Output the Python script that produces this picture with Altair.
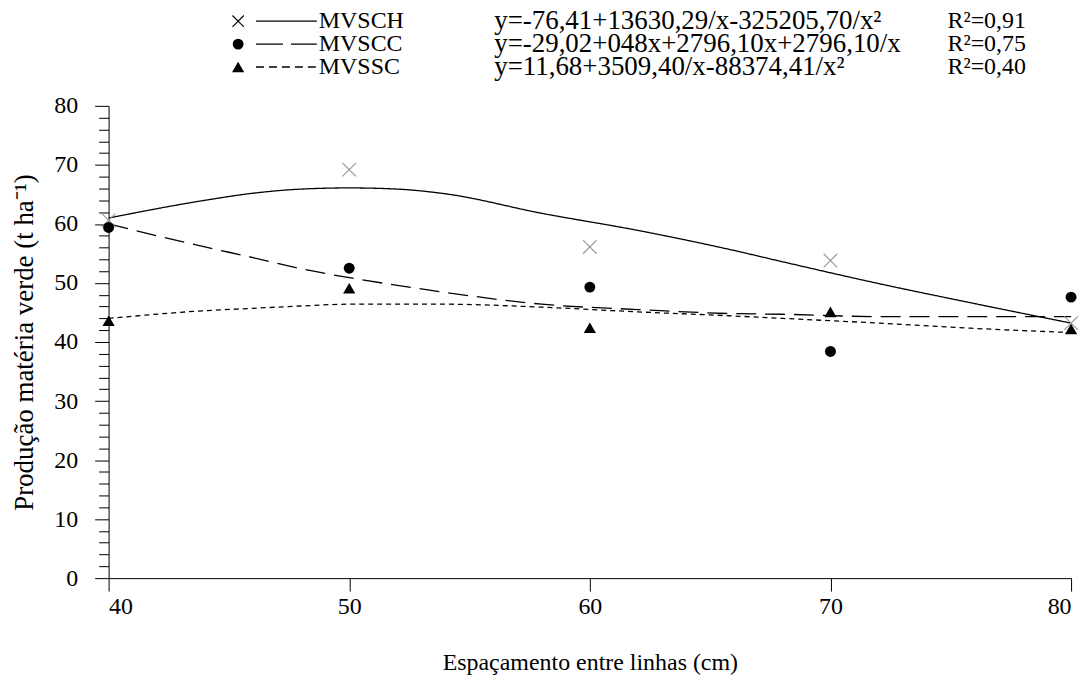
import altair as alt
import pandas as pd

# ---------------- data ----------------
series = ["MVSCH", "MVSCC", "MVSSC"]
equations = [
    "y=-76,41+13630,29/x-325205,70/x²",
    "y=-29,02+048x+2796,10x+2796,10/x",
    "y=11,68+3509,40/x-88374,41/x²",
]
r2_labels = ["R²=0,91", "R²=0,75", "R²=0,40"]

spacing_cm = [40, 50, 60, 70, 80]
mvsch_obs = [60.6, 69.2, 56.1, 53.8, 43.2]
mvscc_obs = [59.4, 52.5, 49.3, 38.4, 47.6]
mvssc_obs = [43.6, 49.1, 42.4, 45.1, 42.2]

curve_x = [40, 44, 46, 48, 50, 52, 54, 58, 62, 66, 68, 72, 76, 80]
mvsch_fit = [61.0, 64.0, 65.2, 65.9, 66.1, 65.9, 65.1, 61.8, 58.9, 55.5, 53.6, 49.9, 46.5, 43.2]
mvscc_fit = [60.0, 56.1, 54.3, 52.4, 50.9, 49.6, 48.4, 46.4, 45.5, 44.8, 44.7, 44.3, 44.3, 44.3]
mvssc_fit = [44.0, 45.3, 45.7, 46.1, 46.4, 46.4, 46.4, 45.9, 45.1, 44.4, 44.0, 43.2, 42.3, 41.6]

y_ticks = list(range(0, 81, 2))
x_ticks = [40, 50, 60, 70, 80]

# ---------------- tables ----------------
obs_df = pd.DataFrame({
    "x": spacing_cm * 3,
    "y": mvsch_obs + mvscc_obs + mvssc_obs,
    "series": [s for s in series for _ in spacing_cm],
})
fit_df = pd.DataFrame({
    "x": curve_x * 3,
    "y": mvsch_fit + mvscc_fit + mvssc_fit,
    "series": [s for s in series for _ in curve_x],
})
legend_df = pd.DataFrame({"series": series, "row": [0, 1, 2], "eq": equations, "r2": r2_labels})

# ---------------- styles ----------------
FONT = "Liberation Serif"
FS = 24
X_PATH = "M-1,-1L1,1M1,-1L-1,1"
dash_scale = alt.Scale(domain=series, range=[[1, 0], [20, 9], [5, 4]])
legend_dashes = {"MVSCH": [1, 0], "MVSCC": [27, 8], "MVSSC": [8, 5]}
marker_style = {"MVSCC": ("circle", 120), "MVSSC": ("triangle-up", 150)}

axis_font = dict(labelFont=FONT, labelFontSize=FS, labelColor="black",
                 titleFont=FONT, titleColor="black", titleFontWeight="normal",
                 domainColor="black", tickColor="black", grid=False)

x_enc = alt.X(
    "x:Q",
    scale=alt.Scale(domain=[40, 80], nice=False, zero=False),
    axis=alt.Axis(values=x_ticks, title="Espaçamento entre linhas (cm)", titleFontSize=FS,
                  tickSize=13, labelPadding=4, titlePadding=32, format="d", **axis_font),
)
y_enc = alt.Y(
    "y:Q",
    scale=alt.Scale(domain=[0, 80], nice=False),
    axis=alt.Axis(
        values=y_ticks,
        labelExpr="datum.value % 10 === 0 ? datum.label : ''",
        labelOverlap=False,
        tickSize={"condition": {"test": "datum.value % 10 === 0", "value": 14}, "value": 10},
        labelPadding=17,
        titlePadding=15,
        titleFontSize=27,
        title="Produção matéria verde (t ha⁻¹)",
        **axis_font,
    ),
)

lines = alt.Chart(fit_df).mark_line(color="black", strokeWidth=1.3, interpolate="monotone").encode(
    x=x_enc, y=y_enc,
    strokeDash=alt.StrokeDash("series:N", scale=dash_scale, legend=None),
    detail="series:N",
)
x_marks = alt.Chart(obs_df).transform_filter(alt.datum.series == "MVSCH").mark_point(
    shape=X_PATH, filled=False, color="#999999", size=185, strokeWidth=1.2, opacity=1
).encode(x=x_enc, y=y_enc)
filled_layers = [
    alt.Chart(obs_df).transform_filter(alt.datum.series == s).mark_point(
        filled=True, color="black", shape=marker_style[s][0], size=marker_style[s][1], opacity=1
    ).encode(x=x_enc, y=y_enc)
    for s in ["MVSCC", "MVSSC"]
]

main = alt.layer(lines, x_marks, *filled_layers).properties(width=966, height=474)

# ---------------- legend panel ----------------
row_y = alt.Y("row:Q", scale=alt.Scale(domain=[0, 2], range=[15, 61]), axis=None)
leg_base = alt.Chart(legend_df).encode(y=row_y)

SYM_X, L1, L2, LBL_X, EQ_X, R2_X = 130, 148, 209, 211, 387, 842

leg_x = leg_base.transform_filter(alt.datum.series == "MVSCH").mark_point(
    shape=X_PATH, filled=False, color="black", size=130, strokeWidth=1.1, opacity=1
).encode(x=alt.value(SYM_X))
leg_fill = [
    leg_base.transform_filter(alt.datum.series == s).mark_point(
        filled=True, color="black", shape=marker_style[s][0], size=marker_style[s][1], opacity=1
    ).encode(x=alt.value(SYM_X))
    for s in ["MVSCC", "MVSSC"]
]
leg_rules = [
    leg_base.transform_filter(alt.datum.series == s).mark_rule(
        color="black", strokeWidth=1.3, strokeDash=legend_dashes[s]
    ).encode(x=alt.value(L1), x2=alt.value(L2))
    for s in series
]
leg_lbl = leg_base.mark_text(align="left", baseline="middle", font=FONT, fontSize=FS, color="black").encode(
    x=alt.value(LBL_X), text="series:N")
leg_eq = leg_base.mark_text(align="left", baseline="middle", font=FONT, fontSize=27, color="black").encode(
    x=alt.value(EQ_X), text="eq:N")
leg_r2 = leg_base.mark_text(align="left", baseline="middle", font=FONT, fontSize=FS, color="black").encode(
    x=alt.value(R2_X), text="r2:N")

legend = alt.layer(*leg_rules, leg_x, *leg_fill, leg_lbl, leg_eq, leg_r2).properties(width=966, height=80)

chart = alt.vconcat(legend, main, spacing=8).properties(
    padding={"left": 11, "top": 5, "right": 10, "bottom": 5}
).configure(background="white", font=FONT).configure_view(stroke=None).configure_axis(
    grid=False,
    domainColor="black", domainWidth=1,
    tickColor="black", tickWidth=1,
    labelFont=FONT, labelFontSize=FS, labelColor="black",
    titleFont=FONT, titleColor="black", titleFontWeight="normal",
).configure_text(font=FONT)

chart.save("out.html", embed_options={"renderer": "svg", "actions": False})
